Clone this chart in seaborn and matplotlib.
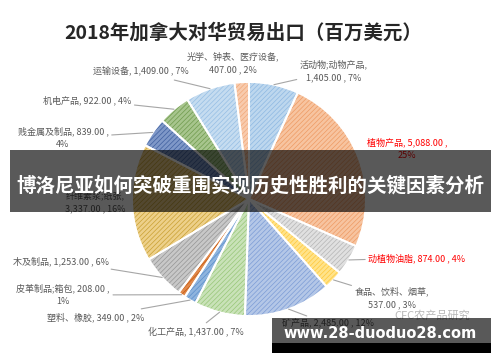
import matplotlib
matplotlib.use("Agg")
import matplotlib.pyplot as plt
from matplotlib.patches import Rectangle
import numpy as np
import seaborn as sns

# 数据：2018年加拿大对华贸易出口（百万美元），从12点钟方向顺时针
categories = ["活动物;动物产品", "植物产品", "动植物油脂", "食品、饮料、烟草", "矿产品",
              "化工产品", "塑料、橡胶", "皮革制品;箱包", "木及制品", "纤维素浆;纸张",
              "贱金属及制品", "机电产品", "运输设备", "光学、钟表、医疗设备"]
exports = [1405.0, 5088.0, 874.0, 537.0, 2485.0,
           1437.0, 349.0, 208.0, 1253.0, 3337.0,
           839.0, 922.0, 1409.0, 407.0]

title = "2018年加拿大对华贸易出口（百万美元）"
banner = "博洛尼亚如何突破重围实现历史性胜利的关键因素分析"
site = "www.28-duoduo28.com"
mark = "CFC农产品研究"

# 样式
face_colors = ["#BDD7EE", "#F7C4A0", "#E0E0E0", "#FFE38A", "#B4C7E7",
               "#C9E2B8", "#8FB4DE", "#E0884A", "#C8C8C8", "#EDD08A",
               "#7F98C8", "#A7C58D", "#C5DCF0", "#F8CBAD"]
hatch_colors = ["#8DB8E2", "#EE9A63", "#B5B5B5", "#FFC83A", "#7C9CD6",
                "#97C677", "#5B8FCB", "#C55A11", "#959595", "#C9A032",
                "#3F5F9F", "#6E9A4C", "#95BEE4", "#F2A878"]
# 标签位置（像素，图片坐标），换行方式：0 不换行，1 名称后换行，2 百分比前换行
label_pos = [(334, 71), (407, 149), (417, 258), (392, 298), (328, 324),
             (196, 331), (96, 317), (63, 295), (61, 261), (95, 202),
             (63, 138), (87, 100), (141, 72), (233, 63)]
wrap_mode = [1, 2, 0, 1, 0, 0, 0, 2, 0, 1, 2, 0, 0, 1]
leader = [True, False, True, True, True, True, True, True, True, False,
          True, True, True, False]
red_labels = {"植物产品", "动植物油脂"}

W, H = 500, 362
sns.set_theme(style="white")
plt.rcParams['font.family'] = ['Noto Sans CJK SC', 'DejaVu Sans']
plt.rcParams['hatch.linewidth'] = 0.5

fig = plt.figure(figsize=(W / 100, H / 100), dpi=100)
ax = fig.add_axes([0, 0, 1, 1])

cx, cy, r = 249, H - 199, 117
wedges, _ = ax.pie(exports, colors=face_colors, startangle=90, counterclock=False,
                   center=(cx, cy), radius=r, wedgeprops=dict(linewidth=0))
for w, hc in zip(wedges, hatch_colors):
    w.set_edgecolor(hc)
    w.set_hatch('///////')
# white separators on top
ax.pie(exports, colors=['none'] * len(exports), startangle=90, counterclock=False,
       center=(cx, cy), radius=r,
       wedgeprops=dict(linewidth=1.4, edgecolor='white', fill=False))

ax.set_xlim(0, W)
ax.set_ylim(0, H)
ax.set_aspect('equal')
ax.axis('off')

total = sum(exports)
for i, (name, val) in enumerate(zip(categories, exports)):
    pct = f"{val / total * 100:.0f}%"
    num = f"{val:,.2f}"
    if wrap_mode[i] == 1:
        txt = f"{name},\n{num} , {pct}"
    elif wrap_mode[i] == 2:
        txt = f"{name}, {num} ,\n{pct}"
    else:
        txt = f"{name}, {num} , {pct}"
    color = "#FF0000" if name in red_labels else "#595959"
    lx, ly = label_pos[i]
    w = wedges[i]
    mid = np.deg2rad((w.theta1 + w.theta2) / 2)
    px, py = cx + r * np.cos(mid), cy + r * np.sin(mid)
    if leader[i]:
        ax.annotate(txt, xy=(px, py), xytext=(lx, H - ly), ha='center', va='center',
                    fontsize=6.5, color=color, linespacing=1.5,
                    arrowprops=dict(arrowstyle='-', color='#A6A6A6', lw=0.8,
                                    shrinkA=0, shrinkB=0))
    else:
        ax.text(lx, H - ly, txt, ha='center', va='center', fontsize=6.5,
                color=color, linespacing=1.5)

fig.text(243 / W, 1 - 33 / H, title, ha='center', va='center', fontsize=14,
         fontweight='bold', color='#262626')

# 覆盖层
ax.text(432, H - 316, mark, ha='center', va='center', fontsize=8, color='#B8B8B8')
ax.add_patch(Rectangle((10, H - 212), 481, 62, facecolor='black', alpha=0.65,
                       linewidth=0, zorder=10))
ax.text(250, H - 186, banner, ha='center', va='center', fontsize=14,
        fontweight='bold', color='white', zorder=11)
ax.add_patch(Rectangle((272, H - 343), 219, 25, facecolor='black', alpha=0.65,
                       linewidth=0, zorder=10))
ax.add_patch(Rectangle((272, H - 353), 219, 10, facecolor='black',
                       linewidth=0, zorder=10))
ax.text(380, H - 334, site, ha='center', va='center', fontsize=10.5,
        fontweight='bold', color='white', family='DejaVu Sans', zorder=11)

fig.savefig("out.png", dpi=100)
